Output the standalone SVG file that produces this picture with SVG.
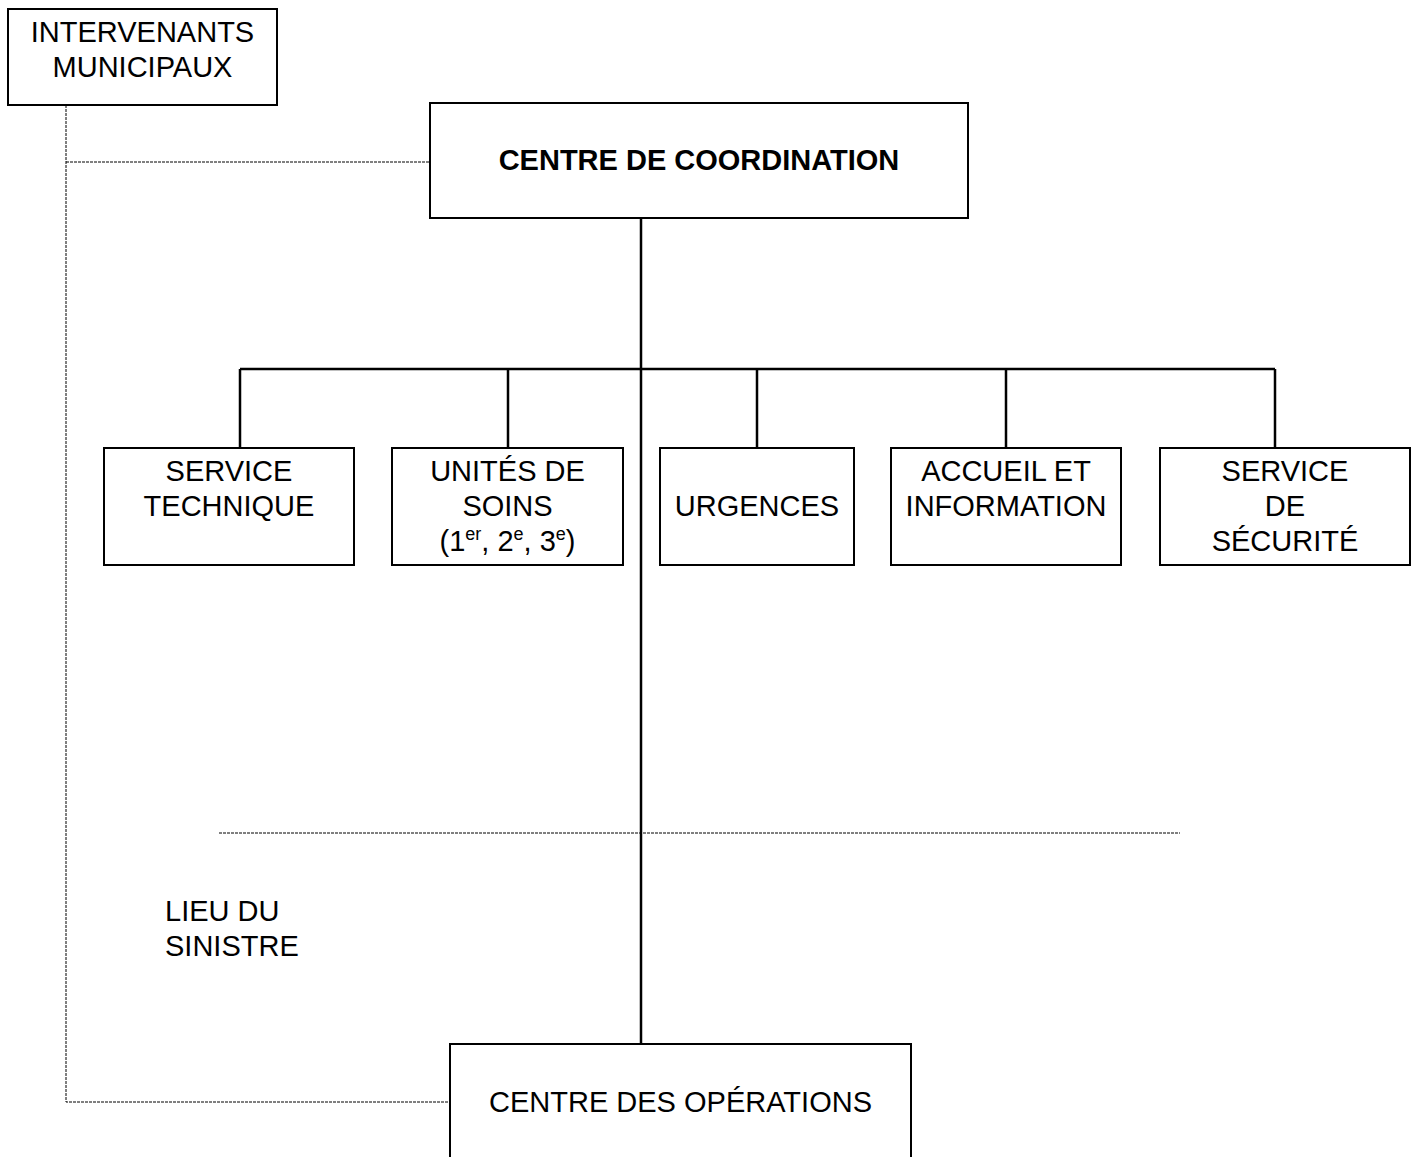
<svg xmlns="http://www.w3.org/2000/svg" width="1416" height="1157" viewBox="0 0 1416 1157">
<style>
.box{fill:#fff;stroke:#000;stroke-width:2}
.t{font-family:"Liberation Sans",Arial,sans-serif;font-size:29px;fill:#000;text-anchor:middle}
.b{font-weight:bold}
.l{text-anchor:start}
.solid{stroke:#000;stroke-width:2.5;fill:none}
.dash{stroke:#000;stroke-width:1;fill:none;stroke-dasharray:3,1}
.sup{font-size:18px}
</style>
<rect width="1416" height="1157" fill="#fff"/>
<g id="connectors">
<path class="dash" d="M66 105 V1102 H450"/>
<path class="dash" d="M66 162 H430"/>
<path class="dash" d="M219 833 H1180"/>
<path class="solid" d="M641 218 V1045"/>
<path class="solid" d="M240 369 H1275"/>
<path class="solid" d="M240 369 V448 M508 369 V448 M757 369 V448 M1006 369 V448 M1275 369 V448"/>
</g>
<g id="intervenants">
<rect class="box" x="8" y="9" width="269" height="96"/>
<text class="t" x="142.5" y="42">INTERVENANTS</text>
<text class="t" x="142.5" y="77">MUNICIPAUX</text>
</g>
<g id="coordination">
<rect class="box" x="430" y="103" width="538" height="115"/>
<text class="t b" x="699" y="170">CENTRE DE COORDINATION</text>
</g>
<g id="service-technique">
<rect class="box" x="104" y="448" width="250" height="117"/>
<text class="t" x="229" y="481">SERVICE</text>
<text class="t" x="229" y="516">TECHNIQUE</text>
</g>
<g id="unites-soins">
<rect class="box" x="392" y="448" width="231" height="117"/>
<text class="t" x="507.5" y="481">UNITÉS DE</text>
<text class="t" x="507.5" y="516">SOINS</text>
<text class="t" x="507.5" y="551">(1<tspan class="sup" dy="-11">er</tspan><tspan dy="11">, 2</tspan><tspan class="sup" dy="-11">e</tspan><tspan dy="11">, 3</tspan><tspan class="sup" dy="-11">e</tspan><tspan dy="11">)</tspan></text>
</g>
<g id="urgences">
<rect class="box" x="660" y="448" width="194" height="117"/>
<text class="t" x="757" y="516">URGENCES</text>
</g>
<g id="accueil">
<rect class="box" x="891" y="448" width="230" height="117"/>
<text class="t" x="1006" y="481">ACCUEIL ET</text>
<text class="t" x="1006" y="516">INFORMATION</text>
</g>
<g id="securite">
<rect class="box" x="1160" y="448" width="250" height="117"/>
<text class="t" x="1285" y="481">SERVICE</text>
<text class="t" x="1285" y="516">DE</text>
<text class="t" x="1285" y="551">SÉCURITÉ</text>
</g>
<g id="lieu-sinistre">
<text class="t l" x="165" y="921">LIEU DU</text>
<text class="t l" x="165" y="956">SINISTRE</text>
</g>
<g id="operations">
<rect class="box" x="450" y="1044" width="461" height="125"/>
<text class="t" x="680.5" y="1112">CENTRE DES OPÉRATIONS</text>
</g>
</svg>
